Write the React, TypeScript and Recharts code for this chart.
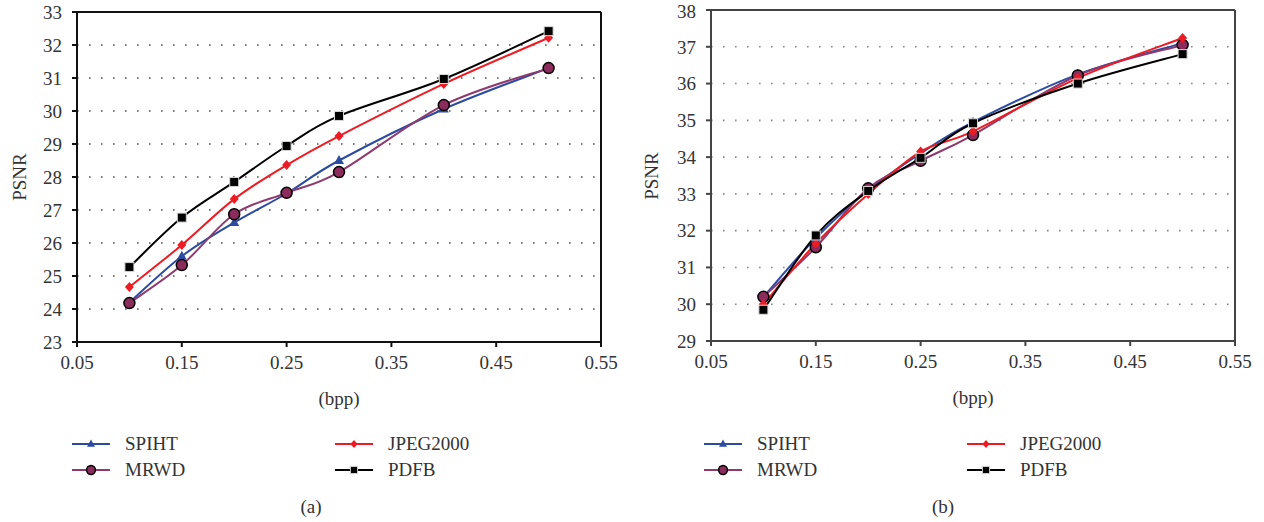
import React from 'react';
import {
  LineChart,
  Line,
  XAxis,
  YAxis,
  CartesianGrid,
  ReferenceLine,
} from 'recharts';

const bpp = [0.1, 0.15, 0.2, 0.25, 0.3, 0.4, 0.5];
const xTicks = [0.05, 0.15, 0.25, 0.35, 0.45, 0.55];

// panel (a)
const spihtA = [24.2, 25.6, 26.62, 27.5, 28.5, 30.06, 31.3];
const jpegA = [24.67, 25.94, 27.33, 28.36, 29.24, 30.82, 32.22];
const mrwdA = [24.18, 25.33, 26.87, 27.52, 28.15, 30.18, 31.3];
const pdfbA = [25.27, 26.77, 27.85, 28.94, 29.85, 30.97, 32.42];
const yTicksA = [23, 24, 25, 26, 27, 28, 29, 30, 31, 32, 33];

// panel (b)
const spihtB = [30.2, 31.8, 33.1, 34.1, 34.95, 36.25, 37.1];
const jpegB = [30.0, 31.65, 33.0, 34.15, 34.7, 36.15, 37.24];
const mrwdB = [30.2, 31.55, 33.15, 33.9, 34.6, 36.22, 37.05];
const pdfbB = [29.85, 31.87, 33.08, 33.98, 34.92, 36.0, 36.8];
const yTicksB = [29, 30, 31, 32, 33, 34, 35, 36, 37, 38];

const FONT = '"Liberation Serif", "DejaVu Serif", serif';
const BLUE = '#2b4ba0';
const RED = '#ed1c24';
const PURPLE = '#8e3a6e';
const PURPLE_FILL = '#8b2c5c';

// Excel-like smoothed line (Catmull-Rom as cubic bezier)
const excelSmooth = (context: any) => {
  let pts: number[][] = [];
  return {
    areaStart() {},
    areaEnd() {},
    lineStart() {
      pts = [];
    },
    point(x: number, y: number) {
      pts.push([+x, +y]);
    },
    lineEnd() {
      const n = pts.length;
      if (!n) return;
      context.moveTo(pts[0][0], pts[0][1]);
      for (let i = 0; i < n - 1; i++) {
        const p0 = pts[Math.max(i - 1, 0)];
        const p1 = pts[i];
        const p2 = pts[i + 1];
        const p3 = pts[Math.min(i + 2, n - 1)];
        context.bezierCurveTo(
          p1[0] + (p2[0] - p0[0]) / 6,
          p1[1] + (p2[1] - p0[1]) / 6,
          p2[0] - (p3[0] - p1[0]) / 6,
          p2[1] - (p3[1] - p1[1]) / 6,
          p2[0],
          p2[1]
        );
      }
    },
  };
};

const triangle = (cx: number, cy: number, key?: any, k = 1) => (
  <path key={key} d={`M${cx},${cy - 5.5 * k}L${cx + 5 * k},${cy + 3.5 * k}L${cx - 5 * k},${cy + 3.5 * k}Z`} fill={BLUE} />
);
const diamond = (cx: number, cy: number, key?: any, k = 1) => (
  <path key={key} d={`M${cx},${cy - 5 * k}L${cx + 4.5 * k},${cy}L${cx},${cy + 5 * k}L${cx - 4.5 * k},${cy}Z`} fill={RED} />
);
const circle = (cx: number, cy: number, key?: any, k = 1) => (
  <circle key={key} cx={cx} cy={cy} r={5.5 * k} fill={PURPLE_FILL} stroke="#000" strokeWidth={1.5} />
);
const square = (cx: number, cy: number, key?: any, k = 1) => (
  <rect key={key} x={cx - 4.5 * k} y={cy - 4.5 * k} width={9 * k} height={9 * k} fill="#000" stroke="#d8d8d8" strokeWidth={1} />
);

const series = [
  { key: 'spiht', name: 'SPIHT', color: BLUE, marker: triangle },
  { key: 'mrwd', name: 'MRWD', color: PURPLE, marker: circle },
  { key: 'jpeg', name: 'JPEG2000', color: RED, marker: diamond },
  { key: 'pdfb', name: 'PDFB', color: '#000', marker: square },
];

function LegendItem({ s, x, y }: { s: any; x: number; y: number }) {
  return (
    <div style={{ position: 'absolute', left: x, top: y - 12, height: 24, display: 'flex', alignItems: 'center' }}>
      <svg width={38} height={24}>
        <line x1={0} y1={12} x2={38} y2={12} stroke={s.color} strokeWidth={2} />
        {s.marker(19, 12, undefined, 0.8)}
      </svg>
      <span style={{ marginLeft: 15, fontFamily: FONT, fontSize: 19, color: '#333' }}>{s.name}</span>
    </div>
  );
}

function Panel({
  left,
  caption,
  values,
  yTicks,
  margin,
  axisColor,
  gridColor,
}: {
  left: number;
  caption: string;
  values: Record<string, number[]>;
  yTicks: number[];
  margin: { top: number; right: number; left: number; bottom: number };
  axisColor: string;
  gridColor: string;
}) {
  const data = bpp.map((b, i) => ({
    bpp: b,
    spiht: values.spiht[i],
    mrwd: values.mrwd[i],
    jpeg: values.jpeg[i],
    pdfb: values.pdfb[i],
  }));
  const yMin = yTicks[0];
  const yMax = yTicks[yTicks.length - 1];
  const tickStyle = { fontFamily: FONT, fontSize: 19, fill: '#333' };
  return (
    <div style={{ position: 'absolute', left, top: 0, width: 632, height: 522 }}>
      <LineChart width={632} height={410} data={data} margin={margin}>
        <CartesianGrid vertical={false} stroke={gridColor} strokeWidth={1.6} strokeDasharray="1.6 10.4" />
        <XAxis
          dataKey="bpp"
          type="number"
          domain={[0.05, 0.55]}
          ticks={xTicks}
          tickFormatter={(v) => v.toFixed(2)}
          tick={tickStyle}
          tickSize={5}
          tickMargin={9}
          height={63}
          stroke={axisColor}
          strokeWidth={2}
          label={{ value: '(bpp)', position: 'insideBottom', offset: 0, style: tickStyle }}
        />
        <YAxis
          type="number"
          domain={[yMin, yMax]}
          ticks={yTicks}
          tick={tickStyle}
          tickSize={5}
          tickMargin={10}
          width={60}
          stroke={axisColor}
          strokeWidth={2}
        />
        <ReferenceLine y={yMax} stroke={axisColor} strokeWidth={2} />
        <ReferenceLine x={0.55} stroke={axisColor} strokeWidth={2} />
        {series.map((s) => (
          <Line
            key={s.key}
            dataKey={s.key}
            name={s.name}
            type={excelSmooth as any}
            stroke={s.color}
            strokeWidth={2}
            dot={(p: any) => s.marker(p.cx, p.cy, `${s.key}-${p.index}`)}
            activeDot={false}
            isAnimationActive={false}
          />
        ))}
      </LineChart>
      <div
        style={{
          position: 'absolute',
          left: 20,
          top: (margin.top + 342) / 2,
          transform: 'translate(-50%, -50%) rotate(-90deg)',
          fontFamily: FONT,
          fontSize: 19,
          color: '#333',
        }}
      >
        PSNR
      </div>
      <LegendItem s={series[0]} x={72} y={444} />
      <LegendItem s={series[1]} x={72} y={470} />
      <LegendItem s={series[2]} x={335} y={444} />
      <LegendItem s={series[3]} x={335} y={470} />
      <div
        style={{
          position: 'absolute',
          left: 311,
          top: 507,
          transform: 'translate(-50%, -50%)',
          fontFamily: FONT,
          fontSize: 19,
          color: '#333',
        }}
      >
        {caption}
      </div>
    </div>
  );
}

export default function App() {
  return (
    <div style={{ position: 'absolute', left: 0, top: 0, width: 1264, height: 522, background: '#fff' }}>
      <Panel
        left={0}
        caption="(a)"
        values={{ spiht: spihtA, mrwd: mrwdA, jpeg: jpegA, pdfb: pdfbA }}
        yTicks={yTicksA}
        margin={{ top: 12, right: 31, left: 17, bottom: 5 }}
        axisColor="#111"
        gridColor="#555"
      />
      <Panel
        left={632}
        caption="(b)"
        values={{ spiht: spihtB, mrwd: mrwdB, jpeg: jpegB, pdfb: pdfbB }}
        yTicks={yTicksB}
        margin={{ top: 10, right: 29, left: 19, bottom: 6 }}
        axisColor="#444"
        gridColor="#888"
      />
    </div>
  );
}
